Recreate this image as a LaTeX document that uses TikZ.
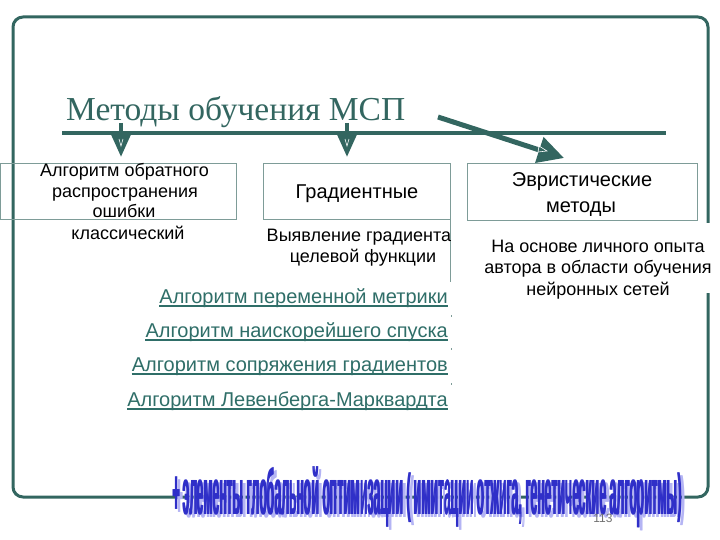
\documentclass[tikz,border=0pt]{standalone}
\usepackage{fontspec}
\usepackage{graphicx}
\setmainfont{Liberation Sans}
\newfontfamily\titlefont{Liberation Serif}
\usetikzlibrary{arrows.meta}
\definecolor{teal1}{HTML}{336660}
\definecolor{boxc}{HTML}{7E9C98}
\definecolor{listc}{HTML}{2F6E68}
\definecolor{wablue}{HTML}{2F2FC8}
\definecolor{washadow}{HTML}{B4B4F4}
\definecolor{pgray}{HTML}{707070}
\newcommand\wapar[1]{\raisebox{0.08ex}{\scalebox{1}[0.83]{#1}}}
\newcommand\watext{+ элементы глобальной оптимизации \wapar{(} имитации отжига, генетические алгоритмы\wapar{)}}
\newcommand\waart[1]{\resizebox{510pt}{34pt}{\bfseries\raisebox{0pt}[1ex][0pt]{\color{#1}\rlap{\watext}\kern0.7pt\watext}}}
\tikzset{
  frame/.style={draw=teal1, line width=3pt, rounded corners=10pt},
  boxn/.style={draw=boxc, line width=0.9pt, inner sep=0},
  txt/.style={anchor=base, inner sep=0, font=\fontsize{18}{21}\selectfont},
  bigtxt/.style={anchor=base, inner sep=0, font=\fontsize{20}{24}\selectfont},
  listtxt/.style={anchor=base east, inner sep=0, text=listc, font=\fontsize{20}{24}\selectfont},
  ulline/.style={draw=listc, line width=1.2pt},
  arr/.style={draw=teal1, line width=4.5pt, -{Triangle[width=20pt,length=24pt]}},
  arrbig/.style={draw=teal1, line width=5pt, -{Triangle[width=26pt,length=26pt]}},
  tipmark/.style={draw=white, line width=0.6pt},
}
\begin{document}
\begin{tikzpicture}[x=1pt,y=-1pt]
\useasboundingbox (0,0) rectangle (720,540);
% frame
\draw[frame] (13,17) rectangle (708,497);
\fill[white] (470,223) rectangle (716,293);
% title and rule
\node[anchor=base west, inner sep=0, text=teal1, font=\titlefont\fontsize{33.5}{40}\selectfont] (title) at (66,121) {Методы обучения МСП};
\coordinate (r1) at (62,133);
\coordinate (r2) at (666,133);
\draw[teal1, line width=4pt] (r1) -- (r2);
% boxes
\node[boxn, minimum width=236pt, minimum height=56pt] (b1) at (118,191) {};
\node[boxn, minimum width=187pt, minimum height=56pt] (b2) at (356.5,191) {};
\node[boxn, minimum width=230pt, minimum height=57pt] (b3) at (582,191.5) {};
\coordinate (v1) at (450,219);
\coordinate (v2) at (450,282);
\draw[boxc, line width=0.9pt] (v1) -- (v2);
\foreach \yy in {315,348,383} \draw[boxc, line width=0.8pt] (451,\yy) -- (451,\yy+1.5);
% arrows
\coordinate (a1s) at (121,123); \coordinate (a1e) at (121,157);
\coordinate (a2s) at (347,123); \coordinate (a2e) at (347,157);
\coordinate (a3s) at (438,117); \coordinate (a3e) at (564,158);
\draw[arr] (a1s) -- (a1e);
\draw[arr] (a2s) -- (a2e);
\draw[arrbig] (a3s) -- (a3e);
\draw[tipmark] (119,139) -- (121,146) -- (123,139);
\draw[tipmark] (345,139) -- (347,146) -- (349,139);
\draw[tipmark] (539,146) -- (547,151) -- (538,152) -- cycle;
% box texts
\node[txt] (t1a) at (124.5,177) {Алгоритм обратного};
\node[txt] (t1b) at (125,198) {распространения};
\node[txt] (t1c) at (124,218) {ошибки};
\node[txt] (t1d) at (128,240) {классический};
\node[bigtxt] (t2) at (357,199) {Градиентные};
\node[bigtxt] (t3a) at (582,187) {Эвристические};
\node[bigtxt] (t3b) at (581,212) {методы};
\node[txt] (t4a) at (359,241) {Выявление градиента};
\node[txt] (t4b) at (363,262) {целевой функции};
\node[txt] (t5a) at (598,252) {На основе личного опыта};
\node[txt] (t5b) at (598,273) {автора в области обучения};
\node[txt] (t5c) at (598,295) {нейронных сетей};
% list
\node[listtxt] (l1) at (448,303) {Алгоритм переменной метрики};
\node[listtxt] (l2) at (448,337) {Алгоритм наискорейшего спуска};
\node[listtxt] (l3) at (448,371) {Алгоритм сопряжения градиентов};
\node[listtxt] (l4) at (448,406) {Алгоритм Левенберга-Марквардта};
\foreach \n in {l1,l2,l3,l4}
  \draw[ulline] ([yshift=-3pt]\n.base west) -- ([yshift=-3pt]\n.base east);
% word art
\node[anchor=base west, inner sep=0] (was) at (175,517) {\waart{washadow}};
\node[anchor=base west, inner sep=0] (wa) at (172,514) {\waart{wablue}};
% page number
\node[anchor=base, inner sep=0, text=pgray, font=\fontsize{12}{14}\selectfont] (pg) at (603,522) {113};
\end{tikzpicture}
\end{document}
